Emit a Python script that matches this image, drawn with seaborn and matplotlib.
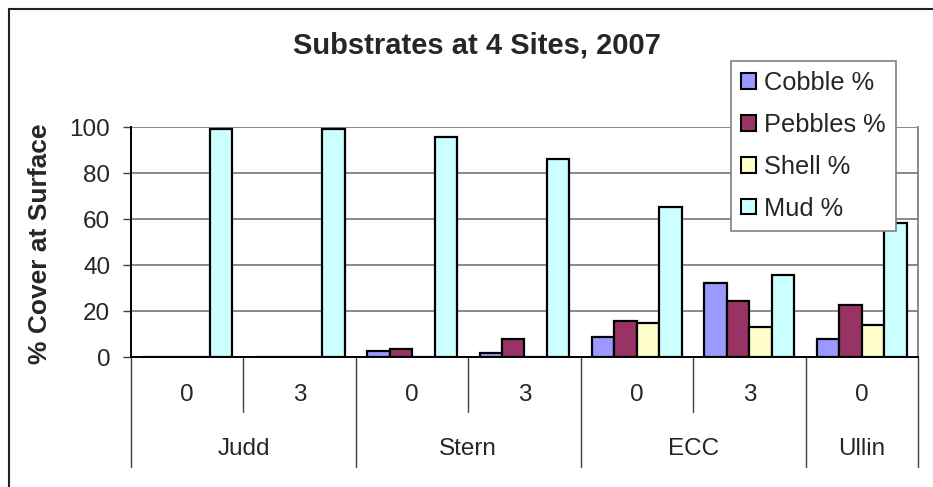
import matplotlib
matplotlib.use("Agg")
import matplotlib.pyplot as plt
from matplotlib.lines import Line2D
import seaborn as sns
import pandas as pd

# Survey sites and sampling depths (one bar group per site/depth pair)
sites = ["Judd", "Judd", "Stern", "Stern", "ECC", "ECC", "Ullin"]
depths = ["0", "3", "0", "3", "0", "3", "0"]

# Percent cover of each substrate type
cobble = [0, 0, 2.6, 1.7, 8.6, 32, 7.7]
pebbles = [0, 0, 3.4, 7.7, 15.5, 24.2, 22.6]
shell = [0, 0, 0, 0, 14.8, 12.9, 13.9]
mud = [99, 99, 95.7, 86, 65.1, 35.5, 58.1]

substrates = ["Cobble %", "Pebbles %", "Shell %", "Mud %"]
colors = ["#9999FF", "#993366", "#FFFFCC", "#CCFFFF"]

keys = [f"{s}-{d}" for s, d in zip(sites, depths)]
rows = []
for name, vals in zip(substrates, [cobble, pebbles, shell, mud]):
    for k, v in zip(keys, vals):
        rows.append({"group": k, "substrate": name, "value": v})
df = pd.DataFrame(rows)

sns.set_style("white")
plt.rcParams["font.family"] = ["Liberation Sans", "DejaVu Sans"]

fig = plt.figure(figsize=(9.33, 4.87), dpi=100)
ax = fig.add_axes([131 / 933, 1 - 357 / 487, (918 - 131) / 933, 230 / 487])

sns.barplot(data=df, x="group", y="value", hue="substrate", order=keys,
            hue_order=substrates, palette=colors, width=0.8,
            edgecolor="black", linewidth=1.6, saturation=1, ax=ax, zorder=3)

ax.set_ylim(0, 100)
ax.set_xlim(-0.5, len(keys) - 0.5)
ax.set_yticks(range(0, 101, 20))
ax.yaxis.grid(True, color="#808080", linewidth=1.3, zorder=0)
ax.set_axisbelow(True)
ax.set_xlabel("")
ax.set_ylabel("")
ax.set_xticks([])
ax.tick_params(axis="y", which="major", left=True, length=6, width=1,
               color="#404040", pad=9, labelsize=17.5)

for side in ["left", "bottom"]:
    ax.spines[side].set_color("black")
    ax.spines[side].set_linewidth(1.4)
ax.spines["top"].set_visible(False)
ax.spines["right"].set_color("#808080")
ax.spines["right"].set_linewidth(1.3)
ax.spines["bottom"].set_zorder(5)

# Two-level category axis: depth labels, then site labels
trans = ax.get_xaxis_transform()
for i, d in enumerate(depths):
    ax.text(i, -0.167, d, transform=trans, ha="center", va="center",
            fontsize=17.5)

site_names = []
site_spans = []
for i, s in enumerate(sites):
    if not site_names or site_names[-1] != s:
        site_names.append(s)
        site_spans.append([i, i])
    else:
        site_spans[-1][1] = i
for name, (a, b) in zip(site_names, site_spans):
    ax.text((a + b) / 2, -0.401, name, transform=trans, ha="center",
            va="center", fontsize=17.5)

boundaries = [-0.5]
for a, b in site_spans:
    for j in range(a, b):
        ax.add_line(Line2D([j + 0.5, j + 0.5], [0, -0.239], transform=trans,
                           color="#404040", linewidth=1, clip_on=False))
    boundaries.append(b + 0.5)
for x in boundaries:
    ax.add_line(Line2D([x, x], [0, -0.478], transform=trans,
                       color="#404040", linewidth=1, clip_on=False))

ax.get_legend().remove()
handles = [plt.Rectangle((0, 0), 1, 1, facecolor=c, edgecolor="black",
                         linewidth=1.5) for c in colors]
leg = fig.legend(handles, substrates, loc="upper left",
                 bbox_to_anchor=(731 / 933, 1 - 61 / 487), fontsize=18.3,
                 frameon=True, fancybox=False, shadow=False, borderpad=0.4,
                 labelspacing=0.7, handlelength=0.58, handleheight=0.58,
                 handletextpad=0.32, borderaxespad=0)
leg.get_frame().set_edgecolor("#808080")
leg.get_frame().set_linewidth(1.2)
leg.get_frame().set_facecolor("white")
leg.get_frame().set_alpha(1)

fig.text(477 / 933, 1 - 45 / 487, "Substrates at 4 Sites, 2007",
         ha="center", va="center", fontsize=21, fontweight="bold")
fig.text(40 / 933, 1 - 244 / 487, "% Cover at Surface", ha="center",
         va="center", rotation=90, fontsize=19, fontweight="bold")

# Chart-area frame
x0, y0 = 9 / 933, 1 - 9 / 487
fig.add_artist(Line2D([x0, x0], [0, y0], transform=fig.transFigure,
                      color="#222222", linewidth=1.5))
fig.add_artist(Line2D([x0, 1], [y0, y0], transform=fig.transFigure,
                      color="#222222", linewidth=1.5))

fig.savefig("out.png", dpi=100, facecolor="white")
